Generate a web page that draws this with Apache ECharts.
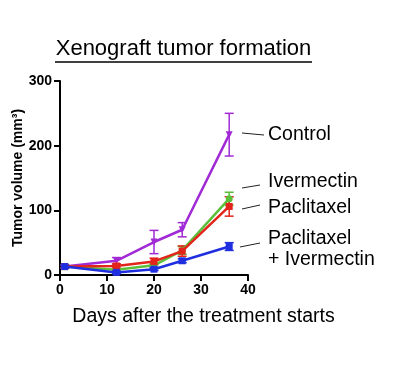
<!DOCTYPE html>
<html><head><meta charset="utf-8">
<script src="https://cdn.jsdelivr.net/npm/echarts@6/dist/echarts.min.js"></script>
<style>html,body{margin:0;padding:0;background:#fff}#c{width:400px;height:366px}</style>
</head><body><div id="c"></div>
<script>
const days = [1, 12, 20, 26, 36];
const controlMean = [13, 22, 51, 70, 217];
const controlErr = [2, 5, 18, 11, 33];
const ivermectinMean = [13, 8, 15, 38, 118];
const ivermectinErr = [2, 2, 3, 6, 10];
const paclitaxelMean = [13, 14, 21, 37, 106];
const paclitaxelErr = [2, 3, 5, 8, 15];
const comboMean = [13, 4, 9, 22, 44];
const comboErr = [2, 2, 2, 3, 6];
const xTicks = [0, 10, 20, 30, 40];
const yTicks = [0, 100, 200, 300];
const seriesNames = ['Control', 'Ivermectin', 'Paclitaxel', 'Paclitaxel + Ivermectin'];

const colors = ['#a12ad6', '#5cbf3a', '#e3241b', '#1f2fe0'];
const means = [controlMean, ivermectinMean, paclitaxelMean, comboMean];
const errs = [controlErr, ivermectinErr, paclitaxelErr, comboErr];
const symbols = ['triangle', 'circle', 'rect', 'rect'];
const FONT = '"Liberation Sans", Arial, sans-serif';

const chart = echarts.init(document.getElementById('c'), null, {renderer: 'canvas'});
const series = [];
means.forEach((m, i) => {
  series.push({
    type: 'custom',
    name: seriesNames[i] + ' err',
    z: 2 + i,
    data: days.map((d, k) => [d, m[k] - errs[i][k], m[k] + errs[i][k]]),
    renderItem: function (params, api) {
      const lo = api.coord([api.value(0), api.value(1)]);
      const hi = api.coord([api.value(0), api.value(2)]);
      const w = 4.5;
      const st = {stroke: colors[i], lineWidth: 1.5};
      return {type: 'group', children: [
        {type: 'line', shape: {x1: lo[0], y1: lo[1], x2: hi[0], y2: hi[1]}, style: st},
        {type: 'line', shape: {x1: hi[0] - w, y1: hi[1], x2: hi[0] + w, y2: hi[1]}, style: st},
        {type: 'line', shape: {x1: lo[0] - w, y1: lo[1], x2: lo[0] + w, y2: lo[1]}, style: st}
      ]};
    }
  });
  series.push({
    type: 'line',
    name: seriesNames[i],
    z: 3 + i,
    data: days.map((d, k) => [d, m[k]]),
    symbol: symbols[i],
    symbolRotate: i === 0 ? 180 : 0,
    symbolSize: 7,
    showAllSymbol: true,
    lineStyle: {color: colors[i], width: 2.5},
    itemStyle: {color: colors[i]},
    animation: false
  });
});

const axisLbl = {color: '#000', fontWeight: 'bold', fontSize: 14, fontFamily: FONT};
const lbl = (t, x, y) => ({type: 'text', left: x, top: y, style: {text: t, font: '19.5px ' + FONT, fill: '#000'}});
chart.setOption({
  animation: false,
  grid: {left: 60, right: 152, top: 81, bottom: 91},
  xAxis: {
    type: 'value', min: 0, max: 40, interval: 10,
    axisLine: {lineStyle: {color: '#000', width: 2}},
    axisTick: {show: true, length: 6, lineStyle: {width: 2, color: '#000'}},
    axisLabel: Object.assign({margin: 8, formatter: v => xTicks.includes(v) ? String(v) : ''}, axisLbl),
    splitLine: {show: false}
  },
  yAxis: {
    type: 'value', min: 0, max: 300, interval: 100,
    name: 'Tumor volume (mm³)', nameLocation: 'middle', nameGap: 29, nameRotate: 90,
    nameTextStyle: {fontSize: 14, fontWeight: 'bold', color: '#000', fontFamily: FONT},
    axisLine: {show: true, lineStyle: {color: '#000', width: 2}},
    axisTick: {show: true, length: 6, lineStyle: {width: 2, color: '#000'}},
    axisLabel: Object.assign({margin: 8, formatter: v => yTicks.includes(v) ? String(v) : ''}, axisLbl),
    splitLine: {show: false}
  },
  series: series,
  graphic: [
    {type: 'text', x: 183.5, y: 38, style: {text: 'Xenograft tumor formation', font: '22px ' + FONT, fill: '#000', align: 'center', verticalAlign: 'top'}},
    {type: 'line', shape: {x1: 55, y1: 62, x2: 312, y2: 62}, style: {stroke: '#000', lineWidth: 1.5}},
    {type: 'text', x: 203.5, y: 307, style: {text: 'Days after the treatment starts', font: '19.5px ' + FONT, fill: '#000', align: 'center', verticalAlign: 'top'}},
    {type: 'line', shape: {x1: 242, y1: 133, x2: 264, y2: 135}, style: {stroke: '#222', lineWidth: 1}},
    {type: 'line', shape: {x1: 242, y1: 188, x2: 260, y2: 185}, style: {stroke: '#222', lineWidth: 1}},
    {type: 'line', shape: {x1: 242, y1: 209, x2: 260, y2: 205}, style: {stroke: '#222', lineWidth: 1}},
    {type: 'line', shape: {x1: 240, y1: 247, x2: 260, y2: 243}, style: {stroke: '#222', lineWidth: 1}},
    lbl('Control', 268, 125),
    lbl('Ivermectin', 268, 172),
    lbl('Paclitaxel', 268, 198),
    lbl('Paclitaxel', 268, 229),
    lbl('+ Ivermectin', 268, 250)
  ]
});
</script></body></html>
